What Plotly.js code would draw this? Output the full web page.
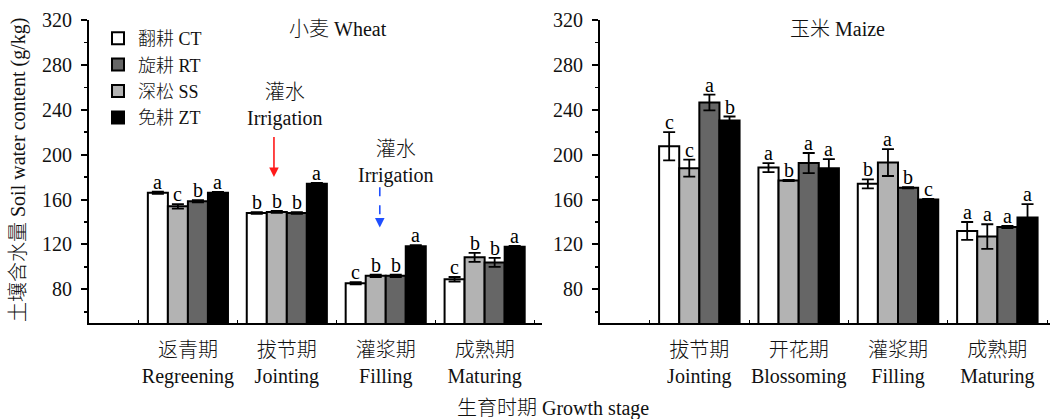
<!DOCTYPE html>
<html>
<head>
<meta charset="utf-8">
<script src="https://cdn.plot.ly/plotly-3.0.1.min.js"></script>
<style>html,body{margin:0;padding:0;background:#fff;}#chart{width:1052px;height:419px;}</style>
</head>
<body>
<div id="chart"></div>
<script>
// ---- data ----
const wheatStages = ["返青期<br>Regreening", "拔节期<br>Jointing", "灌浆期<br>Filling", "成熟期<br>Maturing"];
const maizeStages = ["拔节期<br>Jointing", "开花期<br>Blossoming", "灌浆期<br>Filling", "成熟期<br>Maturing"];
const treatments = ["翻耕 CT", "深松 SS", "旋耕 RT", "免耕 ZT"]; // bar order in each group
const legendRanks = [1, 3, 2, 4];
const colors = ["#ffffff", "#b3b3b3", "#666666", "#000000"];

const wheatCT = [166, 148, 85.5, 89];
const wheatSS = [154, 149, 92, 108.5];
const wheatRT = [158.5, 148, 92, 104];
const wheatZT = [166, 174, 118.5, 118];
const wheatCTerr = [1, 0.8, 1, 2];
const wheatSSerr = [2, 0.8, 1, 4];
const wheatRTerr = [1, 0.8, 1, 4];
const wheatZTerr = [0.8, 0.8, 0.8, 0.8];
const wheatCTsig = ["a", "b", "c", "c"];
const wheatSSsig = ["c", "b", "b", "b"];
const wheatRTsig = ["b", "b", "b", "b"];
const wheatZTsig = ["a", "a", "a", "a"];

const maizeCT = [207.5, 188.5, 174, 132];
const maizeSS = [188, 177, 193, 127];
const maizeRT = [246.5, 192.5, 170.5, 135.5];
const maizeZT = [230.5, 188, 160, 144];
const maizeCTerr = [12.5, 4, 4, 8];
const maizeSSerr = [7.5, 0.5, 12, 11];
const maizeRTerr = [7, 9, 0.5, 1];
const maizeZTerr = [3.5, 8, 0.5, 12];
const maizeCTsig = ["c", "a", "b", "a"];
const maizeSSsig = ["c", "b", "a", "a"];
const maizeRTsig = ["a", "a", "b", "a"];
const maizeZTsig = ["b", "a", "c", "a"];

const yTicks = [80, 120, 160, 200, 240, 280, 320];

// ---- build ----
const FONT = "'Liberation Serif', 'Times New Roman', 'Noto Sans CJK SC', serif";
const pos = [1, 2, 3, 4];
const bargap = 0.19;
const bw = (1 - bargap) / 4;

const wheatVals = [wheatCT, wheatSS, wheatRT, wheatZT];
const wheatErrs = [wheatCTerr, wheatSSerr, wheatRTerr, wheatZTerr];
const wheatSigs = [wheatCTsig, wheatSSsig, wheatRTsig, wheatZTsig];
const maizeVals = [maizeCT, maizeSS, maizeRT, maizeZT];
const maizeErrs = [maizeCTerr, maizeSSerr, maizeRTerr, maizeZTerr];
const maizeSigs = [maizeCTsig, maizeSSsig, maizeRTsig, maizeZTsig];

const traces = [];
const annotations = [];

function addPanel(vals, errs, sigs, xa, ya, showLegend) {
  for (let i = 0; i < 4; i++) {
    traces.push({
      type: "bar", x: pos, y: vals[i], name: treatments[i],
      xaxis: xa, yaxis: ya, showlegend: showLegend, legendrank: legendRanks[i],
      marker: {color: colors[i], line: {color: "#000", width: 2}},
      error_y: {type: "data", array: errs[i], visible: true, color: "#000", thickness: 1.8, width: 6},
      hoverinfo: "skip"
    });
    for (let k = 0; k < 4; k++) {
      annotations.push({
        xref: xa, yref: ya, x: pos[k] + (i - 1.5) * bw, y: vals[i][k] + errs[i][k],
        text: sigs[i][k], showarrow: false, xanchor: "center", yanchor: "bottom", yshift: -3,
        font: {family: FONT, size: 20, color: "#000"}
      });
    }
  }
}
addPanel(wheatVals, wheatErrs, wheatSigs, "x", "y", true);
addPanel(maizeVals, maizeErrs, maizeSigs, "x2", "y2", false);

const textFont = {family: FONT, size: 20, color: "#111", weight: 300};
annotations.push(
  {xref: "paper", yref: "paper", x: 338/1052, y: 1 - 29/419, xanchor: "center", yanchor: "middle", text: "小麦 Wheat", showarrow: false, font: textFont},
  {xref: "paper", yref: "paper", x: 837/1052, y: 1 - 29/419, xanchor: "center", yanchor: "middle", text: "玉米 Maize", showarrow: false, font: textFont},
  {xref: "paper", yref: "paper", x: 553/1052, y: 1 - 408/419, xanchor: "center", yanchor: "middle", text: "生育时期 Growth stage", showarrow: false, font: textFont},
  {xref: "paper", yref: "paper", x: 18/1052, y: 1 - 170/419, xanchor: "center", yanchor: "middle", text: "土壤含水量 Soil water content (g/kg)", textangle: -90, showarrow: false, font: textFont},
  {xref: "x", yref: "y", x: 1.98, y: 244, xanchor: "center", yanchor: "middle", text: "灌水<br>Irrigation", showarrow: false, font: textFont},
  {xref: "x", yref: "y", x: 1.87, y: 180, ax: 1.87, ay: 217, axref: "x", ayref: "y", text: "", showarrow: true,
   arrowhead: 2, arrowsize: 1.2, arrowwidth: 1.6, arrowcolor: "#ff1a1a"},
  {xref: "x", yref: "y", x: 3.10, y: 193, xanchor: "center", yanchor: "middle", text: "灌水<br>Irrigation", showarrow: false, font: textFont},
  {xref: "x", yref: "y", x: 2.94, y: 135, ax: 2.94, ay: 142, axref: "x", ayref: "y", text: "", showarrow: true,
   arrowhead: 2, arrowsize: 1.2, arrowwidth: 1.6, arrowcolor: "#1f4fff"}
);

const shapes = [
  {type: "line", xref: "x", yref: "y", x0: 2.94, x1: 2.94, y0: 171, y1: 141, line: {color: "#1f4fff", width: 1.6, dash: "dash"}}
];

function yAxis(anchor) {
  return {
    domain: [0.2291, 0.9523], anchor: anchor, range: [50, 320],
    tickvals: yTicks, ticks: "outside", ticklen: 6, tickwidth: 2, tickcolor: "#000",
    minor: {dtick: 20, tick0: 0, ticks: "outside", ticklen: 3, tickwidth: 1.5, tickcolor: "#000"},
    showline: true, linecolor: "#000", linewidth: 2, showgrid: false, zeroline: false,
    ticklabelstandoff: 5,
    tickfont: {family: FONT, size: 20, color: "#111"}, fixedrange: true
  };
}
function xAxis(domain, range, anchor, labels) {
  return {
    domain: domain, anchor: anchor, range: range,
    tickvals: pos, ticktext: labels, ticks: "", showline: true, linecolor: "#000", linewidth: 2,
    minor: {tick0: 0.5, dtick: 1, ticks: "inside", ticklen: 3, tickwidth: 1, tickcolor: "#000"},
    ticklabelstandoff: 8,
    showgrid: false, zeroline: false, tickfont: {family: FONT, size: 20, color: "#111", weight: 300}, fixedrange: true
  };
}

const layout = {
  width: 1052, height: 419,
  margin: {l: 0, r: 0, t: 0, b: 0},
  paper_bgcolor: "#fff", plot_bgcolor: "rgba(0,0,0,0)",
  barmode: "group", bargap: bargap, bargroupgap: 0,
  showlegend: true,
  legend: {x: 98/1052, y: 1 - 20/419, xanchor: "left", yanchor: "top", bgcolor: "rgba(0,0,0,0)",
           font: {family: FONT, size: 18, color: "#111", weight: 300}, tracegroupgap: 0, traceorder: "normal"},
  xaxis: xAxis([89/1052, 542/1052], [0, 4.58], "y", wheatStages),
  yaxis: yAxis("x"),
  xaxis2: xAxis([600/1052, 1050/1052], [0, 4.53], "y2", maizeStages),
  yaxis2: yAxis("x2"),
  annotations: annotations,
  shapes: shapes
};

Plotly.newPlot("chart", traces, layout, {displayModeBar: false, staticPlot: true});
</script>
</body>
</html>
